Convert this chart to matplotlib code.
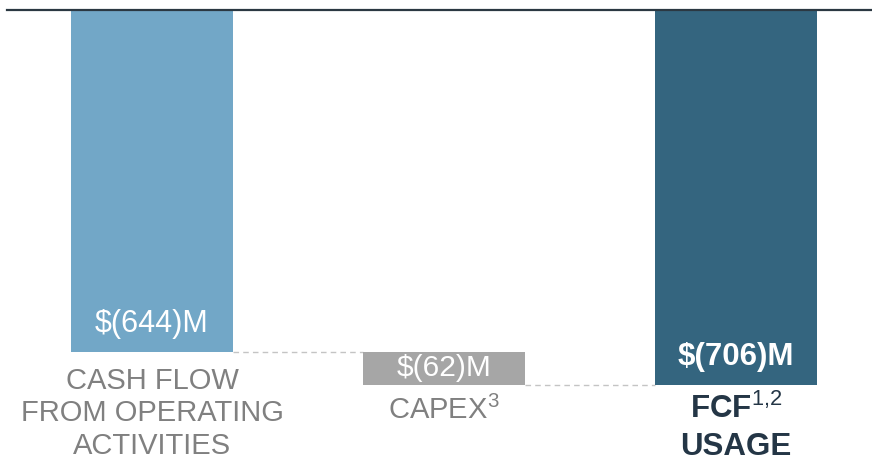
import matplotlib.pyplot as plt
import numpy as np

plt.rcParams['font.family'] = ['Liberation Sans', 'DejaVu Sans']
plt.rcParams['mathtext.fontset'] = 'custom'
plt.rcParams['mathtext.rm'] = 'Liberation Sans'
plt.rcParams['mathtext.it'] = 'Liberation Sans'
plt.rcParams['mathtext.bf'] = 'Liberation Sans:bold'

# data
categories = ['CASH FLOW\nFROM OPERATING\nACTIVITIES', 'CAPEX$^{3}$', 'FCF$^{1{,}2}$\nUSAGE']
values = [-644, -62, -706]
value_labels = ['$(644)M', '$(62)M', '$(706)M']
is_total = [False, False, True]

bar_colors = ['#72a7c7', '#a6a6a6', '#34657f']
label_colors = ['#808080', '#808080', '#243646']

# waterfall bottoms
bottoms = []
run = 0
for v, tot in zip(values, is_total):
    if tot:
        bottoms.append(0)
        run = v
    else:
        bottoms.append(run)
        run += v

fig = plt.figure(figsize=(8.72, 4.63), dpi=100)
ax = fig.add_axes([0, 0, 1, 1])
ax.set_xlim(-152 / 292, 720 / 292)
ax.set_ylim(-453.5 / 0.5316, 9.5 / 0.5316)
ax.axis('off')

x = np.arange(len(values))
w = 162 / 292
bars = ax.bar(x, values, bottom=bottoms, width=w, color=bar_colors, zorder=2)

# baseline
ax.axhline(0, xmin=7 / 872, xmax=1, color='#2b3842', lw=1.6, zorder=3)

# dashed connectors
for i in range(len(values) - 1):
    level = bottoms[i] + values[i]
    ax.plot([x[i] + w / 2, x[i + 1] - w / 2], [level, level], color='#c4c4c4',
            lw=1.0, ls=(0, (4, 3)), zorder=1)

# value labels inside bars
for i, (v, b) in enumerate(zip(values, bottoms)):
    end = b + v
    if abs(v) < 100:
        ax.text(x[i], b + v / 2, value_labels[i], ha='center', va='center',
                color='white', fontsize=21.5)
    else:
        ax.annotate(value_labels[i], (x[i], end), xytext=(0, 28),
                    textcoords='offset pixels', ha='center', va='center',
                    color='white', fontsize=22.5 if is_total[i] else 22,
                    fontweight='bold' if is_total[i] else 'normal')

# category labels below bars
offsets = [-15, -11, -9]
spacing = [1.2, 1.25, 1.3]
for i, (v, b) in enumerate(zip(values, bottoms)):
    end = b + v
    ax.annotate(categories[i], (x[i], end), xytext=(0, offsets[i]),
                textcoords='offset pixels', ha='center', va='top',
                color=label_colors[i], fontsize=22.5 if is_total[i] else 21,
                fontweight='bold' if is_total[i] else 'normal',
                linespacing=spacing[i], multialignment='center')

fig.savefig('out.png', dpi=100)
